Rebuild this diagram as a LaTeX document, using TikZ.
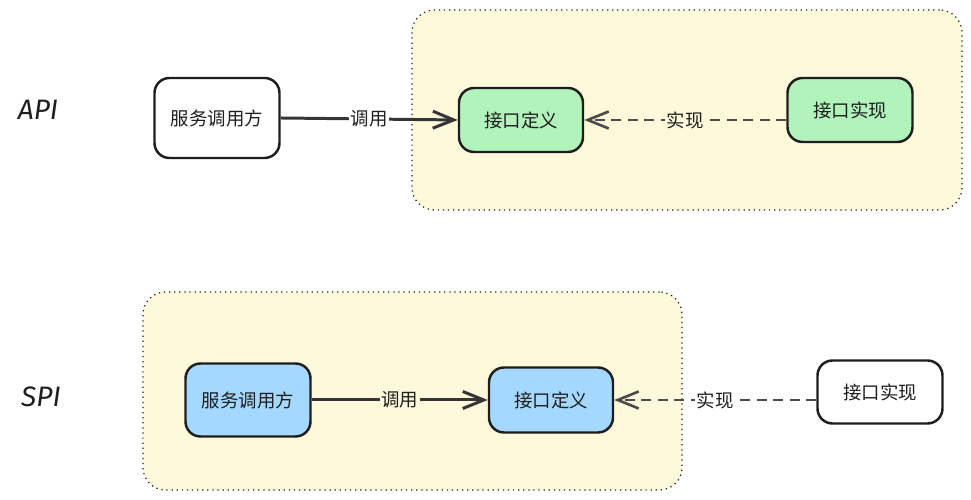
\documentclass[tikz,border=0pt]{standalone}
\usepackage{fontspec}
\setmainfont{Noto Sans CJK SC}
\newfontfamily\tagfont{Fira Sans}
\usetikzlibrary{arrows.meta}
\definecolor{ink}{HTML}{1E1E1E}
\definecolor{areafill}{HTML}{FFF9DB}
\definecolor{apifill}{HTML}{B2F2BB}
\definecolor{spifill}{HTML}{A5D8FF}
\begin{document}
\begin{tikzpicture}
        [font=\fontsize{10.5}{12}\selectfont, text=ink,
        area/.style={rounded corners=0.45cm,draw=ink,line width=0.7pt,dash pattern=on 0.7pt off 2.2pt,fill=areafill},
        box/.style={rounded corners=0.3cm,draw=ink,line width=1.4pt,minimum width=2.5cm},
        tag/.style={font=\tagfont\fontsize{16}{19}\selectfont\itshape},
        call/.style={-{Straight Barb[length=0.42cm,width=0.34cm]},draw=ink!90,line width=1.7pt},
        impl/.style={-{Straight Barb[length=0.42cm,width=0.34cm]},draw=ink!80,line width=1.5pt,dash pattern=on 0.2cm off 0.13cm},
        txt/.style={inner sep=1pt}]
        \useasboundingbox (0,0) rectangle (19.42,10);
        \node (apiarea) at (13.74,7.8) [area, minimum width=11cm, minimum height=4cm] {};
        \node (spiarea) at (8.25,2.18) [area, minimum width=10.78cm, minimum height=3.96cm] {};
        \node (apitag) at (0.76,7.8) [tag] {API};
        \node (spitag) at (0.82,2.06) [tag] {SPI};
        \node (caller1) at (4.34,7.64) [box, fill=white, minimum height=1.6cm] {服务调用方};
        \node (def1) at (10.42,7.6) [box, fill=apifill, minimum width=2.48cm, minimum height=1.28cm] {接口定义};
        \node (impl1) at (17.0,7.8) [box, fill=apifill, minimum height=1.28cm] {接口实现};
        \node (caller2) at (4.96,2.0) [box, fill=spifill, minimum height=1.46cm] {服务调用方};
        \node (def2) at (11.02,2.0) [box, fill=spifill, minimum width=2.48cm, minimum height=1.3cm] {接口定义};
        \node (impl2) at (17.6,2.16) [box, fill=white, minimum height=1.26cm] {接口实现};
        \draw[call] (caller1.east) -- node (calltxt1) [txt, fill=white] {调用} (def1.west);
        \draw[impl] (impl1.west |- def1.east) -- node (impltxt1) [txt, fill=areafill] {实现} (def1.east);
        \draw[call] (caller2.east) -- node (calltxt2) [txt, fill=areafill] {调用} (def2.west);
        \draw[impl] (impl2.west |- def2.east) -- node (impltxt2) [txt, fill=white] {实现} (def2.east);
\end{tikzpicture}
\end{document}
